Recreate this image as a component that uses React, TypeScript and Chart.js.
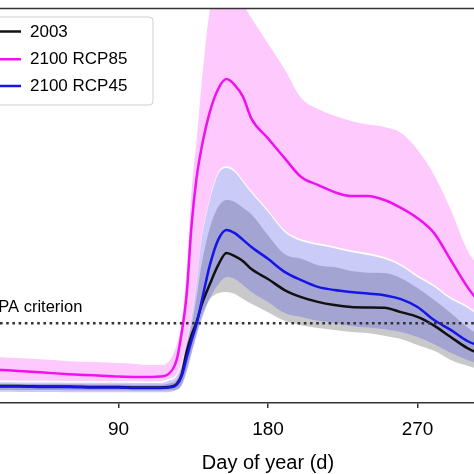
import React, { useEffect, useRef } from "react";
import { Chart, registerables } from "chart.js";

Chart.register(...registerables);

// ---- data (day of year) ----
const DAYS = [1, 10, 20, 30, 45, 60, 75, 90, 100, 110, 115, 120, 125, 128, 131, 134, 137, 140, 145, 150, 155, 160, 165, 170, 180, 190, 200, 210, 220, 230, 240, 250, 260, 270, 280, 290, 300, 310, 320, 335, 350, 360];

const MEAN_2003 = [4.43, 4.43, 4.3, 4.3, 4.18, 4.18, 4.05, 4.05, 3.92, 3.92, 3.92, 4.05, 4.8, 7.1, 12.9, 17.2, 20.5, 24.8, 30.1, 34.9, 38.0, 37.2, 35.9, 33.9, 31.4, 28.6, 26.8, 25.6, 24.8, 24.3, 24.2, 24.1, 23.0, 21.8, 19.6, 16.7, 13.9, 12.0, 10.0, 7.5, 5.5, 4.8];
const HIGH_2003 = [4.9, 4.9, 4.85, 4.8, 4.8, 4.75, 4.7, 4.7, 4.65, 4.65, 4.65, 4.9, 5.8, 9.0, 15.0, 19.7, 26.8, 35.0, 44.3, 49.6, 51.4, 50.9, 49.4, 47.8, 42.5, 37.7, 36.5, 34.9, 34.4, 33.4, 33.0, 32.9, 31.6, 29.1, 26.1, 22.8, 19.2, 16.5, 13.5, 9.5, 6.5, 5.5];
const LOW_2003 = [3.4, 3.4, 3.35, 3.3, 3.3, 3.25, 3.2, 3.2, 3.15, 3.15, 3.15, 3.2, 3.4, 4.6, 8.2, 13.0, 17.5, 21.8, 26.3, 27.8, 28.1, 27.6, 26.3, 25.1, 23.0, 20.8, 19.7, 19.0, 18.5, 18.0, 17.7, 17.0, 16.2, 14.7, 13.2, 10.9, 9.4, 8.2, 7.0, 5.5, 4.0, 3.5];

const MEAN_RCP45 = [4.3, 4.3, 4.18, 4.18, 4.05, 4.05, 3.92, 3.92, 3.8, 3.8, 3.8, 3.92, 4.6, 6.8, 11.4, 15.9, 20.0, 25.6, 34.9, 41.3, 43.8, 43.0, 41.3, 39.5, 36.5, 33.2, 31.1, 29.4, 28.6, 28.1, 27.7, 27.3, 26.3, 24.3, 21.0, 18.5, 15.7, 14.0, 11.5, 8.0, 6.0, 5.0];
const HIGH_RCP45 = [5.3, 5.3, 5.25, 5.2, 5.2, 5.15, 5.1, 5.1, 5.05, 5.05, 5.05, 5.6, 6.8, 9.6, 14.7, 21.8, 30.4, 41.3, 51.4, 58.0, 59.5, 58.5, 55.9, 53.2, 48.4, 43.3, 41.0, 40.0, 39.2, 38.2, 37.5, 36.5, 34.7, 31.9, 29.4, 26.3, 24.1, 21.0, 17.0, 12.0, 8.0, 6.5];
const LOW_RCP45 = [2.9, 2.9, 2.85, 2.8, 2.8, 2.75, 2.7, 2.7, 2.7, 2.7, 2.7, 2.75, 3.3, 4.4, 7.8, 12.5, 17.0, 21.0, 26.5, 30.0, 31.9, 31.4, 29.9, 28.1, 25.6, 22.8, 21.8, 20.8, 20.3, 19.5, 19.1, 18.7, 18.0, 16.7, 14.9, 12.7, 10.9, 9.5, 8.0, 6.0, 4.5, 3.8];

const MEAN_RCP85 = [8.86, 8.6, 8.35, 8.1, 7.7, 7.3, 7.0, 6.7, 6.6, 6.6, 6.7, 7.3, 10.9, 17.7, 27.3, 45.1, 57.0, 64.6, 73.7, 79.5, 82.0, 80.5, 77.5, 72.0, 67.0, 62.0, 57.2, 55.2, 53.4, 52.4, 52.4, 51.4, 49.4, 46.8, 43.0, 36.2, 29.4, 24.0, 19.0, 13.0, 9.5, 8.5];
const HIGH_RCP85 = [12.2, 11.9, 11.6, 11.4, 11.0, 10.6, 10.4, 10.1, 9.9, 9.6, 9.6, 10.4, 14.7, 20.5, 33.7, 53.9, 66.6, 80.5, 99.5, 106, 108, 105, 101, 97.5, 91.0, 84.5, 77.2, 74.5, 72.7, 71.4, 70.5, 69.9, 68.4, 64.1, 57.7, 48.9, 38.7, 33.0, 27.0, 19.0, 14.0, 12.0];
const LOW_RCP85 = [5.75, 5.75, 5.7, 5.65, 5.65, 5.6, 5.55, 5.55, 5.5, 5.5, 5.5, 6.05, 7.25, 10.05, 15.15, 22.25, 30.85, 41.75, 51.85, 58.45, 59.95, 58.95, 56.35, 53.65, 48.85, 43.75, 41.45, 40.45, 39.65, 38.65, 37.95, 36.95, 35.15, 32.35, 29.85, 26.75, 24.55, 21.45, 17.45, 12.45, 8.45, 6.95];

const EPA_CRITERION = 20.2;
const EPA_LABEL = "EPA criterion";
const EPA_LABEL_DAY = 11;
const X_TICKS = [90, 180, 270];
const X_TITLE = "Day of year (d)";
const LABEL_2003 = "2003";
const LABEL_RCP85 = "2100 RCP85";
const LABEL_RCP45 = "2100 RCP45";

const FONT = "'Liberation Sans', Arial, Helvetica, sans-serif";
const C_2003 = "#111111";
const C_RCP85 = "#f010f0";
const C_RCP45 = "#1515e8";

const pts = (ys: number[]) => DAYS.map((d, i) => ({ x: d, y: ys[i] }));

const lineDs = (label: string, ys: number[], color: string, order: number) => ({
  label,
  data: pts(ys),
  borderColor: color,
  borderWidth: 2.5,
  pointRadius: 0,
  fill: false,
  order,
  cubicInterpolationMode: "monotone" as const,
});

const bandDs = (label: string, ys: number[], color: string, order: number, fill: any) => ({
  label,
  data: pts(ys),
  borderColor: "transparent",
  borderWidth: 0,
  pointRadius: 0,
  backgroundColor: color,
  fill,
  order,
  cubicInterpolationMode: "monotone" as const,
});

const decorPlugin = {
  id: "decor",
  afterDatasetsDraw(chart: any) {
    const { ctx, chartArea, scales } = chart;
    const xs = scales.x;
    const ys = scales.y;
    ctx.save();
    // top frame line
    ctx.strokeStyle = "#333";
    ctx.lineWidth = 1.5;
    ctx.beginPath();
    ctx.moveTo(chartArea.left, chartArea.top + 0.5);
    ctx.lineTo(chartArea.right, chartArea.top + 0.5);
    ctx.stroke();

    // EPA label
    ctx.font = `16.5px ${FONT}`;
    ctx.fillStyle = "#000";
    ctx.textAlign = "left";
    ctx.textBaseline = "alphabetic";
    ctx.fillText(EPA_LABEL, xs.getPixelForValue(EPA_LABEL_DAY), ys.getPixelForValue(EPA_CRITERION) - 11);

    // legend
    const L = chartArea.left;
    const T = chartArea.top;
    const x0 = L + 11, y0 = T + 9, x1 = L + 184, y1 = T + 97;
    ctx.beginPath();
    ctx.roundRect(x0, y0, x1 - x0, y1 - y0, 4);
    ctx.fillStyle = "rgba(255,255,255,0.85)";
    ctx.fill();
    ctx.strokeStyle = "#d0d0d0";
    ctx.lineWidth = 1;
    ctx.stroke();
    const items = [
      { label: LABEL_2003, color: C_2003, dy: 23.5 },
      { label: LABEL_RCP85, color: C_RCP85, dy: 51.3 },
      { label: LABEL_RCP45, color: C_RCP45, dy: 78 },
    ];
    ctx.font = `17px ${FONT}`;
    ctx.textBaseline = "middle";
    for (const it of items) {
      ctx.strokeStyle = it.color;
      ctx.lineWidth = 2.5;
      ctx.beginPath();
      ctx.moveTo(L + 18, T + it.dy);
      ctx.lineTo(L + 52, T + it.dy);
      ctx.stroke();
      ctx.fillStyle = "#000";
      ctx.fillText(it.label, L + 61, T + it.dy + 0.5);
    }
    ctx.restore();
  },
};

export default function App() {
  const ref = useRef<HTMLCanvasElement>(null);
  useEffect(() => {
    if (!ref.current) return;
    Chart.defaults.font.family = FONT;
    const chart = new Chart(ref.current, {
      type: "line",
      data: {
        datasets: [
          {
            label: EPA_LABEL,
            data: [{ x: 0, y: EPA_CRITERION }, { x: 360, y: EPA_CRITERION }],
            borderColor: "#333",
            borderWidth: 2.5,
            borderDash: [2.6, 3.6],
            pointRadius: 0,
            fill: false,
            order: 0,
          },
          lineDs(LABEL_RCP45, MEAN_RCP45, C_RCP45, 1),
          lineDs(LABEL_2003, MEAN_2003, C_2003, 2),
          lineDs(LABEL_RCP85, MEAN_RCP85, C_RCP85, 3),
          bandDs("RCP45 high", HIGH_RCP45, "rgba(70,70,230,0.28)", 10, "+1"),
          bandDs("RCP45 low", LOW_RCP45, "transparent", 10, false),
          bandDs("2003 high", HIGH_2003, "rgba(90,90,100,0.33)", 11, "+1"),
          bandDs("2003 low", LOW_2003, "transparent", 11, false),
          bandDs("RCP85 high", HIGH_RCP85, "rgba(250,60,245,0.28)", 12, "+1"),
          bandDs("RCP85 low", LOW_RCP85, "transparent", 12, false),
        ] as any,
      },
      options: {
        animation: false,
        responsive: false,
        events: [],
        layout: { padding: { left: 10, right: 20, top: 8, bottom: 0 } },
        plugins: { legend: { display: false }, tooltip: { enabled: false } },
        scales: {
          x: {
            type: "linear",
            min: 0,
            max: 360,
            afterBuildTicks: (s: any) => {
              s.ticks = X_TICKS.map((v) => ({ value: v }));
            },
            afterFit: (s: any) => {
              s.height = 71;
            },
            grid: { drawOnChartArea: false, drawTicks: true, tickLength: 5, color: "#333", lineWidth: 1.5 },
            border: { display: true, color: "#333", width: 1.5 },
            ticks: { color: "#000", font: { size: 19 }, padding: 10, maxRotation: 0, autoSkip: false },
            title: { display: true, text: X_TITLE, color: "#000", font: { size: 20 }, padding: { top: 0, bottom: -1 } },
          },
          y: { display: false, min: 0, max: 100 },
        },
      } as any,
      plugins: [decorPlugin],
    });
    return () => chart.destroy();
  }, []);
  return (
    <div style={{ position: "fixed", left: 0, top: 0, width: 474, height: 474, overflow: "hidden", background: "#fff" }}>
      <div style={{ position: "absolute", left: -41, top: 0, width: 628, height: 474 }}>
        <canvas ref={ref} width={628} height={474} style={{ display: "block" }} />
      </div>
    </div>
  );
}
